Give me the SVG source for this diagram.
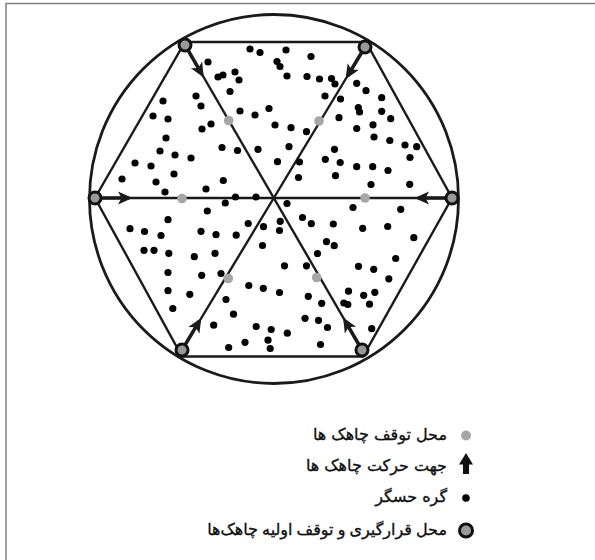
<svg xmlns="http://www.w3.org/2000/svg" width="595" height="560" viewBox="0 0 595 560">
<style>
.bd{stroke:#808080;stroke-width:1.5;fill:none}
.ln{stroke:#1a1a1a;stroke-width:2.4;fill:none}
.ci{stroke:#1a1a1a;stroke-width:2.8;fill:none}
.ar{stroke:#1a1a1a;stroke-width:3.5;fill:none;marker-end:url(#ah)}
.s{fill:#000}
.st{fill:#a6a6a6}
.vx{fill:#999;stroke:#111;stroke-width:3}
.tx{font-family:"DejaVu Sans",sans-serif;font-size:16px;fill:#111;stroke:#111;stroke-width:0.35}
</style>
<defs>
<marker id="ah" markerUnits="userSpaceOnUse" viewBox="-13 -8 17 16" markerWidth="17" markerHeight="16" refX="0" refY="0" orient="auto">
<path d="M3.5,0 L-11,-6.5 L-7.5,0 L-11,6.5 Z" fill="#1a1a1a"/>
</marker>
</defs>
<rect width="595" height="560" fill="#fff"/>
<path class="bd" d="M6,560 V3.5 H595"/>
<circle class="ci" cx="274" cy="199" r="184.5"/>
<g id="connectors">
<polygon class="ln" points="185,42 366,42 452,198 363,356.5 182,356.5 95,198"/>
<line class="ln" x1="95" y1="198" x2="452" y2="198"/>
<line class="ln" x1="185" y1="45" x2="362" y2="350"/>
<line class="ln" x1="365" y1="47" x2="182" y2="350"/>
<line class="ar" x1="95" y1="198" x2="129" y2="198"/>
<line class="ar" x1="452" y1="198" x2="418" y2="198"/>
<line class="ar" x1="185" y1="45" x2="202" y2="74.4"/>
<line class="ar" x1="365" y1="47" x2="347.5" y2="76"/>
<line class="ar" x1="182" y1="350" x2="199.5" y2="320.9"/>
<line class="ar" x1="362" y1="350" x2="344.9" y2="320.6"/>
</g>
<g id="sensors">
<circle class="s" cx="208" cy="62" r="3.6"/><circle class="s" cx="218" cy="77" r="3.6"/><circle class="s" cx="196" cy="96" r="3.6"/><circle class="s" cx="163" cy="101" r="3.6"/><circle class="s" cx="201" cy="106" r="3.6"/>
<circle class="s" cx="153" cy="116" r="3.6"/><circle class="s" cx="168" cy="119" r="3.6"/><circle class="s" cx="211" cy="124" r="3.6"/><circle class="s" cx="202" cy="129" r="3.6"/><circle class="s" cx="166" cy="138" r="3.6"/>
<circle class="s" cx="160" cy="151" r="3.6"/><circle class="s" cx="175" cy="155" r="3.6"/><circle class="s" cx="191" cy="158" r="3.6"/><circle class="s" cx="135" cy="163" r="3.6"/><circle class="s" cx="151" cy="166" r="3.6"/>
<circle class="s" cx="174" cy="174" r="3.6"/><circle class="s" cx="122" cy="179" r="3.6"/><circle class="s" cx="156" cy="182" r="3.6"/><circle class="s" cx="206" cy="189" r="3.6"/><circle class="s" cx="165" cy="192" r="3.6"/>
<circle class="s" cx="250" cy="49" r="3.6"/><circle class="s" cx="260" cy="52.5" r="3.6"/><circle class="s" cx="286" cy="50" r="3.6"/><circle class="s" cx="311" cy="56.5" r="3.6"/><circle class="s" cx="277" cy="61.5" r="3.6"/>
<circle class="s" cx="280" cy="66.5" r="3.6"/><circle class="s" cx="223" cy="75" r="3.6"/><circle class="s" cx="235" cy="72" r="3.6"/><circle class="s" cx="239" cy="80" r="3.6"/><circle class="s" cx="287" cy="76" r="3.6"/>
<circle class="s" cx="307" cy="76.5" r="3.6"/><circle class="s" cx="319.5" cy="79" r="3.6"/><circle class="s" cx="331.5" cy="78.5" r="3.6"/><circle class="s" cx="335" cy="84" r="3.6"/><circle class="s" cx="230" cy="91.5" r="3.6"/>
<circle class="s" cx="325" cy="96" r="3.6"/><circle class="s" cx="240" cy="111" r="3.6"/><circle class="s" cx="255" cy="115" r="3.6"/><circle class="s" cx="269" cy="108.5" r="3.6"/><circle class="s" cx="275" cy="125" r="3.6"/>
<circle class="s" cx="291" cy="127.7" r="3.6"/><circle class="s" cx="306.5" cy="131.7" r="3.6"/><circle class="s" cx="222" cy="147.5" r="3.6"/><circle class="s" cx="237.5" cy="150.5" r="3.6"/><circle class="s" cx="258" cy="149.3" r="3.6"/>
<circle class="s" cx="289" cy="146.7" r="3.6"/><circle class="s" cx="334.5" cy="149.3" r="3.6"/><circle class="s" cx="277.5" cy="161.7" r="3.6"/><circle class="s" cx="299.5" cy="162" r="3.6"/><circle class="s" cx="325.3" cy="159.3" r="3.6"/>
<circle class="s" cx="298.5" cy="177.5" r="3.6"/><circle class="s" cx="335.5" cy="175.7" r="3.6"/><circle class="s" cx="223.3" cy="180.5" r="3.6"/><circle class="s" cx="235.5" cy="197" r="3.6"/><circle class="s" cx="256" cy="197" r="3.6"/>
<circle class="s" cx="356.7" cy="83.3" r="3.6"/><circle class="s" cx="366" cy="90.7" r="3.6"/><circle class="s" cx="340.5" cy="99" r="3.6"/><circle class="s" cx="381.7" cy="97.7" r="3.6"/><circle class="s" cx="358.3" cy="107.5" r="3.6"/>
<circle class="s" cx="359.5" cy="112" r="3.6"/><circle class="s" cx="381.7" cy="111.3" r="3.6"/><circle class="s" cx="390.7" cy="118.7" r="3.6"/><circle class="s" cx="339" cy="117.7" r="3.6"/><circle class="s" cx="373" cy="124.8" r="3.6"/>
<circle class="s" cx="356.7" cy="128.5" r="3.6"/><circle class="s" cx="374" cy="137" r="3.6"/><circle class="s" cx="389.8" cy="140.5" r="3.6"/><circle class="s" cx="405" cy="145" r="3.6"/><circle class="s" cx="416.7" cy="146.7" r="3.6"/>
<circle class="s" cx="410" cy="157.5" r="3.6"/><circle class="s" cx="340.2" cy="162.5" r="3.6"/><circle class="s" cx="356.7" cy="166.7" r="3.6"/><circle class="s" cx="372.7" cy="166.7" r="3.6"/><circle class="s" cx="388" cy="170.5" r="3.6"/>
<circle class="s" cx="371" cy="184.5" r="3.6"/><circle class="s" cx="409.7" cy="184.3" r="3.6"/>
<circle class="s" cx="207.3" cy="211" r="3.6"/><circle class="s" cx="168" cy="219.7" r="3.6"/><circle class="s" cx="130" cy="228.7" r="3.6"/><circle class="s" cx="144.5" cy="231.5" r="3.6"/><circle class="s" cx="161" cy="235.5" r="3.6"/>
<circle class="s" cx="201" cy="231.3" r="3.6"/><circle class="s" cx="216" cy="234.7" r="3.6"/><circle class="s" cx="144" cy="250.3" r="3.6"/><circle class="s" cx="154" cy="250.3" r="3.6"/><circle class="s" cx="168.8" cy="253.3" r="3.6"/>
<circle class="s" cx="194.3" cy="256.7" r="3.6"/><circle class="s" cx="215" cy="253.3" r="3.6"/><circle class="s" cx="168" cy="272.5" r="3.6"/><circle class="s" cx="201.7" cy="275.3" r="3.6"/><circle class="s" cx="168" cy="290.7" r="3.6"/>
<circle class="s" cx="189.8" cy="294.3" r="3.6"/><circle class="s" cx="172.8" cy="308.5" r="3.6"/><circle class="s" cx="213.7" cy="325.2" r="3.6"/>
<circle class="s" cx="225.3" cy="203" r="3.6"/><circle class="s" cx="287" cy="203.5" r="3.6"/><circle class="s" cx="248.2" cy="223.5" r="3.6"/><circle class="s" cx="263.5" cy="226.7" r="3.6"/><circle class="s" cx="280.2" cy="221.3" r="3.6"/>
<circle class="s" cx="279.5" cy="230.5" r="3.6"/><circle class="s" cx="302.5" cy="217.5" r="3.6"/><circle class="s" cx="311.3" cy="223.7" r="3.6"/><circle class="s" cx="333.3" cy="224" r="3.6"/><circle class="s" cx="236.2" cy="235.2" r="3.6"/>
<circle class="s" cx="262.5" cy="245.5" r="3.6"/><circle class="s" cx="326.5" cy="241.7" r="3.6"/><circle class="s" cx="334.2" cy="245.7" r="3.6"/><circle class="s" cx="317.5" cy="253.5" r="3.6"/><circle class="s" cx="284.5" cy="265.8" r="3.6"/>
<circle class="s" cx="306.5" cy="265.8" r="3.6"/><circle class="s" cx="221" cy="273.5" r="3.6"/><circle class="s" cx="248.8" cy="285.5" r="3.6"/><circle class="s" cx="263.3" cy="288.3" r="3.6"/><circle class="s" cx="279.5" cy="292.5" r="3.6"/>
<circle class="s" cx="308.3" cy="296.3" r="3.6"/><circle class="s" cx="321.7" cy="303.3" r="3.6"/><circle class="s" cx="226" cy="299.5" r="3.6"/><circle class="s" cx="233.5" cy="314.2" r="3.6"/><circle class="s" cx="305" cy="318.3" r="3.6"/>
<circle class="s" cx="318.5" cy="320.3" r="3.6"/><circle class="s" cx="327.5" cy="327.5" r="3.6"/><circle class="s" cx="256.2" cy="326.5" r="3.6"/><circle class="s" cx="271.2" cy="329.5" r="3.6"/><circle class="s" cx="287.3" cy="333.2" r="3.6"/>
<circle class="s" cx="268" cy="340.2" r="3.6"/><circle class="s" cx="245" cy="342.3" r="3.6"/><circle class="s" cx="270.2" cy="348.5" r="3.6"/><circle class="s" cx="320.5" cy="344.5" r="3.6"/><circle class="s" cx="228.7" cy="347.5" r="3.6"/>
<circle class="s" cx="353" cy="207.5" r="3.6"/><circle class="s" cx="400.7" cy="209.3" r="3.6"/><circle class="s" cx="362.7" cy="228.3" r="3.6"/><circle class="s" cx="387.7" cy="226.5" r="3.6"/><circle class="s" cx="413.8" cy="237.7" r="3.6"/>
<circle class="s" cx="395.7" cy="258.5" r="3.6"/><circle class="s" cx="358.5" cy="266.3" r="3.6"/><circle class="s" cx="373.7" cy="269.3" r="3.6"/><circle class="s" cx="388.8" cy="278.8" r="3.6"/><circle class="s" cx="348.5" cy="291.2" r="3.6"/>
<circle class="s" cx="363.7" cy="295.3" r="3.6"/><circle class="s" cx="374.8" cy="292.3" r="3.6"/><circle class="s" cx="343.8" cy="303" r="3.6"/><circle class="s" cx="347.8" cy="304.5" r="3.6"/><circle class="s" cx="369.5" cy="304.2" r="3.6"/>
<circle class="s" cx="371.7" cy="328.7" r="3.6"/>
</g>
<g id="stop-l"><circle class="st" cx="182" cy="198.5" r="4.8"/></g>
<g id="stop-r"><circle class="st" cx="365" cy="198" r="4.8"/></g>
<g id="stop-tl"><circle class="st" cx="228.7" cy="120.5" r="4.8"/></g>
<g id="stop-tr"><circle class="st" cx="319" cy="121" r="4.8"/></g>
<g id="stop-bl"><circle class="st" cx="228.3" cy="278.5" r="4.8"/></g>
<g id="stop-br"><circle class="st" cx="316.7" cy="277.5" r="4.8"/></g>
<g id="sink-l"><circle class="vx" cx="95" cy="198" r="6"/></g>
<g id="sink-r"><circle class="vx" cx="452" cy="198" r="6"/></g>
<g id="sink-tl"><circle class="vx" cx="185" cy="45" r="6"/></g>
<g id="sink-tr"><circle class="vx" cx="365" cy="47" r="6"/></g>
<g id="sink-bl"><circle class="vx" cx="182" cy="350" r="6"/></g>
<g id="sink-br"><circle class="vx" cx="362" cy="350" r="6"/></g>
<g id="legend">
<circle class="st" cx="466" cy="435.5" r="5"/>
<text class="tx" x="447" y="440" text-anchor="end">محل توقف چاهک ها</text>
<path d="M466,453 L473,464.5 L469,464.5 L469,474 L463,474 L463,464.5 L459,464.5 Z" fill="#111"/>
<text class="tx" x="447" y="471" text-anchor="end">جهت حرکت چاهک ها</text>
<circle class="s" cx="466" cy="498" r="3.8"/>
<text class="tx" x="447" y="502" text-anchor="end">گره حسگر</text>
<circle class="vx" cx="466" cy="530.5" r="6.5" stroke-width="3.2"/>
<text class="tx" x="447" y="535" text-anchor="end" word-spacing="-1">محل قرارگیری و توقف اولیه چاهک‌ها</text>
</g>
</svg>
